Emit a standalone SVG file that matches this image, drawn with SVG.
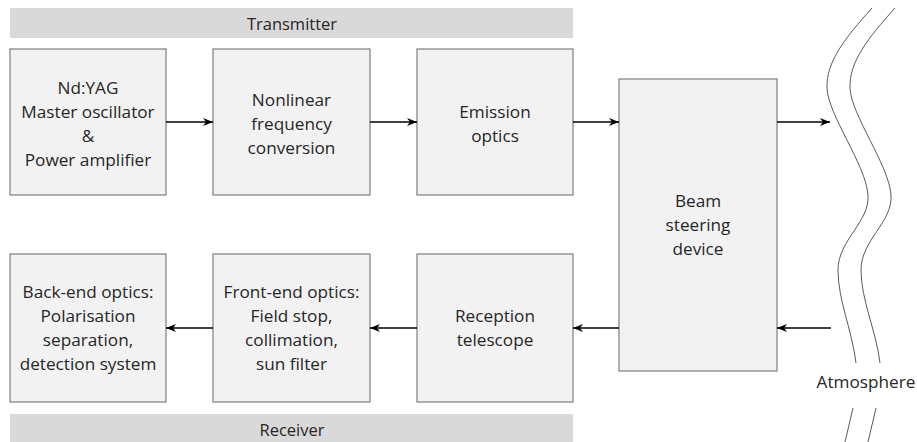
<svg xmlns="http://www.w3.org/2000/svg" width="917" height="442" viewBox="0 0 917 442">
<defs>
<style>
.bar{fill:#d9d9d9}
.box{fill:#f2f2f2;stroke:#7f7f7f;stroke-width:1.2}
.t{font-family:"Open Sans","Noto Sans","Liberation Sans",sans-serif;font-size:17.2px;fill:#262626;text-anchor:middle}
.s{font-size:16.5px}
.c{stroke:#000;stroke-width:1.6;fill:none;marker-end:url(#ah)}
.atm{stroke:#595959;stroke-width:1;fill:none}
</style>
<marker id="ah" viewBox="0 0 10 8" refX="10" refY="4" markerWidth="10" markerHeight="8" markerUnits="userSpaceOnUse" orient="auto">
<path d="M0,0 L10,4 L0,8 L3,4 z" fill="#000"/>
</marker>
</defs>
<rect width="917" height="442" fill="#fff"/>
<g id="transmitter">
<rect class="bar" x="10" y="8" width="563" height="30"/>
<text class="t s" x="292" y="30">Transmitter</text>
</g>
<g id="receiver">
<rect class="bar" x="10" y="414" width="563" height="30"/>
<text class="t s" x="292" y="436">Receiver</text>
</g>
<g id="ndyag">
<rect class="box" x="10" y="49" width="156" height="146"/>
<text class="t" x="88" y="94">Nd:YAG</text>
<text class="t" x="88" y="118">Master oscillator</text>
<text class="t" x="88" y="142">&amp;</text>
<text class="t" x="88" y="166">Power amplifier</text>
</g>
<g id="nonlinear">
<rect class="box" x="213" y="49" width="157" height="146"/>
<text class="t" x="291.5" y="106">Nonlinear</text>
<text class="t" x="291.5" y="130">frequency</text>
<text class="t" x="291.5" y="154">conversion</text>
</g>
<g id="emission">
<rect class="box" x="417" y="49" width="156" height="146"/>
<text class="t" x="495" y="118">Emission</text>
<text class="t" x="495" y="142">optics</text>
</g>
<g id="beam">
<rect class="box" x="619" y="79" width="158" height="292"/>
<text class="t" x="698" y="207">Beam</text>
<text class="t" x="698" y="231">steering</text>
<text class="t" x="698" y="255">device</text>
</g>
<g id="backend">
<rect class="box" x="10" y="254" width="156" height="148"/>
<text class="t" x="88" y="298">Back-end optics:</text>
<text class="t" x="88" y="322">Polarisation</text>
<text class="t" x="88" y="346">separation,</text>
<text class="t" x="88" y="370">detection system</text>
</g>
<g id="frontend">
<rect class="box" x="213" y="254" width="157" height="148"/>
<text class="t" x="291.5" y="298">Front-end optics:</text>
<text class="t" x="291.5" y="322">Field stop,</text>
<text class="t" x="291.5" y="346">collimation,</text>
<text class="t" x="291.5" y="370">sun filter</text>
</g>
<g id="reception">
<rect class="box" x="417" y="254" width="156" height="148"/>
<text class="t" x="495" y="322">Reception</text>
<text class="t" x="495" y="346">telescope</text>
</g>
<g id="atmosphere">
<path class="atm" d="M872,8 C845,38 826,62 827,88 C828,115 866,165 868,195 C870,222 838,240 838,270 C838,300 852,330 856,363"/>
<path class="atm" d="M895,8 C868,38 849,62 850,88 C851,115 889,165 891,195 C893,222 861,240 861,270 C861,300 876,330 880,363"/>
<path class="atm" d="M853,408 L845,442 M876,408 L868,442"/>
<text class="t" x="866" y="388">Atmosphere</text>
</g>
<g id="connectors">
<line class="c" x1="166" y1="122" x2="213" y2="122"/>
<line class="c" x1="370" y1="122" x2="417" y2="122"/>
<line class="c" x1="573" y1="122" x2="619" y2="122"/>
<line class="c" x1="777" y1="122" x2="830" y2="122"/>
<line class="c" x1="831" y1="328" x2="777" y2="328"/>
<line class="c" x1="619" y1="328" x2="573" y2="328"/>
<line class="c" x1="417" y1="328" x2="370" y2="328"/>
<line class="c" x1="213" y1="328" x2="166" y2="328"/>
</g>
</svg>
